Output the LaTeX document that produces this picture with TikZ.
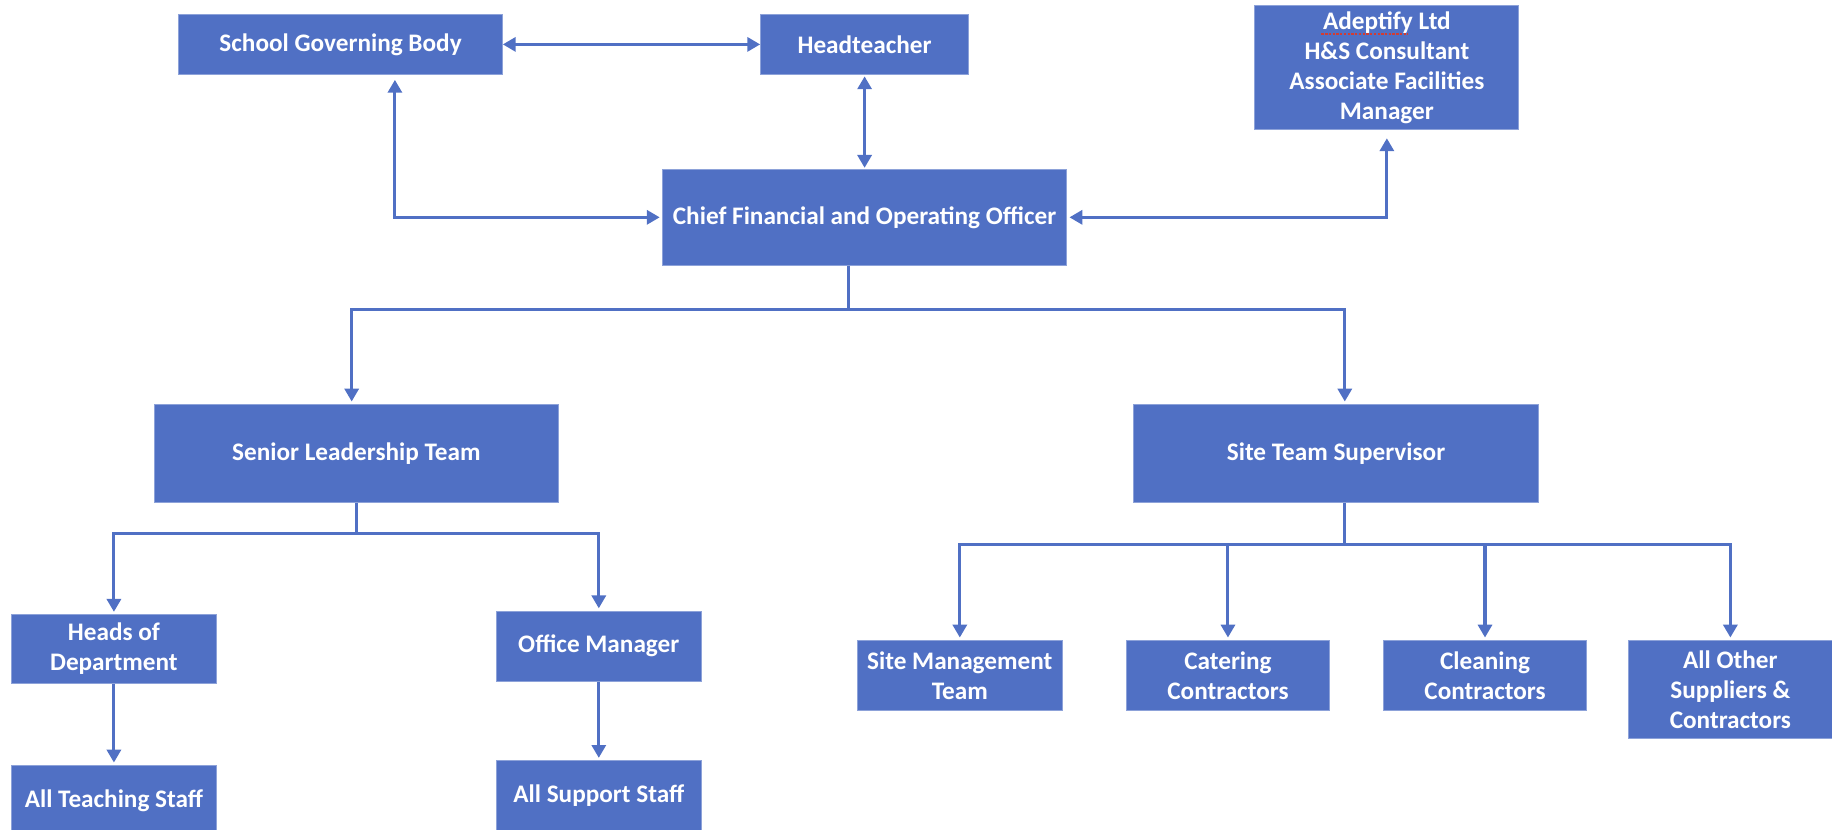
\documentclass[tikz,border=0pt]{standalone}
\usepackage{fontspec}
\setmainfont{Carlito}
\usetikzlibrary{arrows.meta}
\definecolor{boxblue}{RGB}{80,112,196}
\definecolor{squiggle}{RGB}{210,60,50}
\begin{document}
\begin{tikzpicture}[x=1pt,y=-1pt,
  box/.style={fill=boxblue, draw=boxblue!65!white, line width=0.7pt, text=white,
    inner sep=0pt, align=center, font=\fontsize{21.6}{25.7}\selectfont\bfseries},
  link/.style={draw=boxblue, line width=2.6pt},
  tipend/.style={-{Triangle[length=11pt,width=12pt]}, shorten >=2pt},
  tipboth/.style={{Triangle[length=11pt,width=12pt]}-{Triangle[length=11pt,width=12pt]}}
]
\useasboundingbox (0,0) rectangle (1568,710);
% top row
\node[box, minimum width=277pt, minimum height=52pt] (sgb) at (291.5,38) {School Governing Body};
\node[box, minimum width=178pt, minimum height=52pt] (head) at (740,38) {Headteacher};
\node[box, minimum width=226pt, minimum height=106pt] (adep) at (1187,58) {Adeptify Ltd\\H\&S Consultant\\Associate Facilities\\Manager};
\node[box, minimum width=346pt, minimum height=82pt] (cfo) at (740,186) {Chief Financial and Operating Officer};
% second level
\node[box, minimum width=346pt, minimum height=84pt] (slt) at (305,388) {Senior Leadership Team};
\node[box, minimum width=347pt, minimum height=84pt] (sts) at (1143.5,388) {Site Team Supervisor};
% third level left
\node[box, minimum width=175pt, minimum height=59pt] (hod) at (97.5,555.5) {Heads of\\Department};
\node[box, minimum width=175pt, minimum height=60pt] (om) at (512.5,553) {Office Manager};
\node[box, minimum width=175pt, minimum height=60pt] (ats) at (97.5,685) {All Teaching Staff};
\node[box, minimum width=175pt, minimum height=60pt] (ass) at (512.5,681) {All Support Staff};
% third level right
\node[box, minimum width=175pt, minimum height=60pt] (smt) at (821.5,578) {Site Management\\Team};
\node[box, minimum width=174pt, minimum height=60pt] (cat) at (1051,578) {Catering\\Contractors};
\node[box, minimum width=174pt, minimum height=60pt] (cln) at (1271,578) {Cleaning\\Contractors};
\node[box, minimum width=174pt, minimum height=84pt] (aos) at (1481,590) {All Other\\Suppliers \&\\Contractors};
% spell-check underline under "Adeptify"
\draw[squiggle, line width=1.4pt, dash pattern=on 2pt off 1.2pt] (1131,29) -- (1205,29);
% junctions
\coordinate (j1) at (726,265);
\coordinate (j2) at (305,457);
\coordinate (j3) at (1151,466);
% top connectors
\draw[link, tipboth] (sgb.east) -- (head.west);
\draw[link, tipboth, shorten <=2pt, shorten >=4pt] (cfo.west) -| ([xshift=46.5pt]sgb.south);
\draw[link, tipboth, shorten <=1pt, shorten >=1pt] (cfo.north) -- (head.south);
\draw[link, tipboth, shorten <=2pt, shorten >=7pt] (cfo.east) -| (adep.south);
% cfo to second level
\draw[link] ([xshift=-14pt]cfo.south) -- (j1);
\draw[link, tipend] (j1) -| ([xshift=-4pt]slt.north);
\draw[link, tipend] (j1) -| ([xshift=7.5pt]sts.north);
% slt to third level
\draw[link] (slt.south) -- (j2);
\draw[link, tipend] (j2) -| (hod.north);
\draw[link, tipend] (j2) -| (om.north);
\draw[link, tipend] (hod.south) -- (ats.north);
\draw[link, tipend] (om.south) -- (ass.north);
% sts to third level
\draw[link] ([xshift=7.5pt]sts.south) -- (j3);
\draw[link, tipend] (j3) -| (smt.north);
\draw[link, tipend] (j3) -| (cat.north);
\draw[link, tipend] (j3) -| (cln.north);
\draw[link, tipend] (j3) -| (aos.north);
\end{tikzpicture}
\end{document}
